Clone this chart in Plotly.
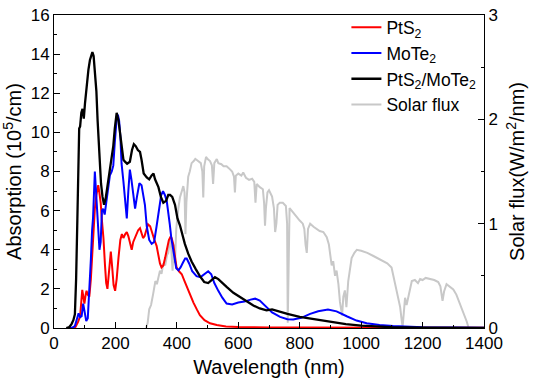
import plotly.graph_objects as go

# ---------------- data ----------------
pts2_x = [60,70,78,85,92,96,99,103,106,110,115,120,125,129,133,138,144,148,152,156,161,166,170,174,179,185,190,194,199,204,210,216,221,226,232,237,242,248,253,258,263,268,274,280,285,290,295,300,306,313,320,327,334,340,345,350,356,362,368,374,379,383,388,393,399,407,416,425,435,445,454,465,475,490,508,530,560,600,650,700,800,900,1000,1100,1200,1300,1400]
pts2_y = [0,0.05,0.3,0.6,1.95,1.5,1.25,1.7,1.9,1.7,1.6,2.5,3.9,5.2,6.1,6.8,7.3,6.9,6.4,5.5,4.6,3.2,2.3,2.0,2.8,3.9,3.0,2.2,1.9,2.5,3.6,4.5,4.8,4.6,4.8,4.9,4.7,4.3,4.0,4.4,4.6,4.8,5.0,5.1,4.9,4.6,4.7,5.0,5.3,5.2,4.8,4.5,4.2,3.6,3.3,3.1,3.2,3.6,4.1,4.5,4.65,4.6,4.3,3.6,3.1,2.9,2.75,2.4,2.0,1.6,1.3,0.95,0.65,0.4,0.24,0.15,0.08,0.05,0.03,0.02,0.02,0.01,0.01,0.01,0.01,0.01,0.01]

mote2_x = [50,60,68,74,80,85,90,95,100,105,110,115,120,124,127,130,133,136,140,144,148,152,156,160,165,170,176,182,188,193,198,203,208,212,216,220,226,231,237,242,247,252,258,264,270,278,285,290,296,302,310,318,326,334,342,349,355,361,367,372,377,382,387,392,398,405,412,420,427,432,440,450,464,477,490,502,512,522,535,548,562,580,600,620,640,655,670,690,710,736,760,779,805,834,860,892,920,953,985,1018,1060,1104,1150,1200,1300,1400]
mote2_y = [0,0.02,0.1,0.4,0.75,0.55,0.6,1.25,0.7,0.35,0.5,1.8,3.5,5.0,5.6,6.8,8.0,7.2,5.9,5.0,4.0,4.4,6.0,6.1,5.8,6.4,7.0,7.8,8.0,8.3,9.5,10.5,10.9,10.6,9.8,8.4,7.5,6.5,5.6,7.0,8.1,7.6,6.7,6.1,6.7,7.4,7.3,6.8,6.3,5.2,4.5,4.3,4.4,5.2,6.2,6.8,7.0,6.8,6.5,6.0,5.3,4.6,4.1,3.5,3.05,2.95,3.1,3.35,3.55,3.55,3.3,2.9,2.65,2.6,2.75,2.9,2.75,2.3,1.9,1.55,1.25,1.2,1.3,1.35,1.45,1.5,1.4,1.1,0.8,0.57,0.45,0.43,0.52,0.72,0.86,0.95,0.85,0.6,0.38,0.24,0.15,0.1,0.06,0.04,0.02,0.01]

het_x = [40,50,57,63,68,72,76,79,82,85,89,93,97,101,105,108,112,117,121,125,129,132,135,138,142,147,153,158,163,168,175,182,188,193,198,204,210,215,220,226,231,238,247,254,260,266,273,280,285,292,302,310,318,324,329,334,340,348,356,365,372,378,385,394,402,410,418,426,437,448,462,475,489,502,513,524,535,548,562,584,606,628,649,670,692,710,730,760,800,850,900,950,1000,1050,1100,1200,1300,1400]
het_y = [0,0.05,0.2,0.4,0.7,2.5,5.5,8.5,10.2,10.3,11.0,11.2,10.7,11.5,12.2,12.5,13.2,13.7,13.9,14.1,13.9,13.4,12.8,12.1,10.6,8.9,7.4,6.7,6.3,6.6,7.3,8.0,8.8,9.3,10.2,11.0,10.6,9.9,9.2,8.6,8.5,8.4,8.5,9.1,9.4,9.3,9.1,9.0,8.6,7.9,7.7,7.6,7.8,7.9,7.6,7.4,7.2,6.7,6.4,6.5,6.8,6.8,6.7,6.3,5.6,5.25,4.7,4.3,3.8,3.4,3.0,2.65,2.35,2.3,2.45,2.6,2.5,2.3,2.1,1.8,1.57,1.35,1.15,1.0,0.9,0.95,0.85,0.72,0.57,0.45,0.32,0.2,0.12,0.07,0.04,0.02,0.01,0.005]

solar_x = [300,305,310,316,323,330,335,340,345,350,356,362,368,372,378,382,386,390,394,398,402,405,410,415,421,425,428,431,437,442,448,455,460,465,470,478,483,486,489,495,500,508,514,518,522,530,535,545,552,562,570,580,586,589,592,600,610,616,625,635,645,652,656,660,670,680,684,687,690,695,700,710,716,720,724,728,735,745,755,759,761,764,767,775,785,800,810,815,819,823,827,834,845,855,865,877,888,895,899,904,909,915,920,926,931,935,938,942,947,952,958,963,969,978,986,1000,1020,1040,1060,1072,1085,1099,1105,1110,1116,1122,1127,1131,1135,1139,1143,1148,1154,1160,1165,1175,1185,1192,1200,1210,1224,1238,1251,1258,1265,1270,1278,1288,1300,1310,1322,1330,1338,1344,1349]
solar_y = [0,0.05,0.18,0.22,0.33,0.45,0.42,0.5,0.55,0.52,0.62,0.6,0.7,0.72,0.86,0.75,0.55,0.8,0.62,0.95,1.1,1.15,1.25,1.3,1.36,1.3,0.9,1.2,1.45,1.5,1.58,1.6,1.62,1.61,1.6,1.58,1.5,1.25,1.55,1.64,1.62,1.6,1.56,1.38,1.58,1.62,1.58,1.57,1.55,1.55,1.53,1.5,1.45,1.3,1.46,1.48,1.46,1.49,1.44,1.42,1.43,1.4,1.2,1.38,1.35,1.33,1.2,0.98,1.15,1.3,1.32,1.26,1.15,0.92,1.0,1.18,1.2,1.2,1.17,1.0,0.05,0.6,1.15,1.12,1.08,1.03,1.0,0.95,0.8,0.72,0.95,1.0,0.97,0.95,0.93,0.92,0.87,0.8,0.72,0.6,0.64,0.5,0.55,0.42,0.25,0.18,0.12,0.3,0.36,0.2,0.45,0.55,0.67,0.72,0.75,0.74,0.72,0.69,0.66,0.64,0.62,0.58,0.5,0.42,0.33,0.28,0.2,0.1,0.01,0.15,0.29,0.22,0.3,0.38,0.45,0.46,0.43,0.47,0.46,0.48,0.47,0.46,0.44,0.4,0.26,0.35,0.42,0.4,0.37,0.32,0.23,0.18,0.11,0.06,0.01]

names = ["PtS<sub>2</sub>", "MoTe<sub>2</sub>", "PtS<sub>2</sub>/MoTe<sub>2</sub>", "Solar flux"]

FONT = "Liberation Sans, Arial, sans-serif"

fig = go.Figure()
# solar flux on base axis (drawn underneath)
fig.add_trace(go.Scatter(x=solar_x, y=solar_y, mode="lines", name=names[3],
                         line=dict(color="#c8c8c8", width=2), yaxis="y", legendrank=4))
fig.add_trace(go.Scatter(x=pts2_x, y=pts2_y, mode="lines", name=names[0],
                         line=dict(color="#ff0000", width=2), yaxis="y2", legendrank=1))
fig.add_trace(go.Scatter(x=mote2_x, y=mote2_y, mode="lines", name=names[1],
                         line=dict(color="#0000ff", width=2), yaxis="y2", legendrank=2))
fig.add_trace(go.Scatter(x=het_x, y=het_y, mode="lines", name=names[2],
                         line=dict(color="#000000", width=2.3), yaxis="y2", legendrank=3))

axis_common = dict(showline=True, linecolor="black", linewidth=1, ticks="inside",
                   tickcolor="black", ticklen=6, showgrid=False, zeroline=False,
                   automargin=False, ticklabeloverflow="allow",
                   tickfont=dict(family=FONT, size=17, color="black"))

fig.update_layout(
    width=533, height=379,
    margin=dict(l=54, r=49, t=9, b=51),
    paper_bgcolor="white", plot_bgcolor="white",
    font=dict(family=FONT, color="black"),
    xaxis=dict(range=[0, 1400], dtick=200, mirror=True,
               minor=dict(dtick=100, ticklen=3, ticks="inside", tickcolor="black"),
               title=dict(text="Wavelength (nm)", font=dict(family=FONT, size=20), standoff=7),
               **axis_common),
    yaxis=dict(range=[0, 3], dtick=1, side="right",
               minor=dict(dtick=0.5, ticklen=3, ticks="inside", tickcolor="black"),
               title=dict(text="Solar flux(W/m<sup>2</sup>/nm)", font=dict(family=FONT, size=20), standoff=13),
               **axis_common),
    yaxis2=dict(range=[0, 16], dtick=2, side="left", overlaying="y",
                minor=dict(dtick=1, ticklen=3, ticks="inside", tickcolor="black"),
                title=dict(text="Absorption (10<sup>5</sup>/cm)", font=dict(family=FONT, size=20), standoff=9),
                **axis_common),
    legend=dict(x=0.68, y=1.018, xanchor="left", yanchor="top",
                bgcolor="rgba(0,0,0,0)", font=dict(family=FONT, size=17.5),
                tracegroupgap=0),
    showlegend=True,
)

fig.write_html("out.html", config={"displayModeBar": False},
               post_script="document.body.style.margin='0';")
